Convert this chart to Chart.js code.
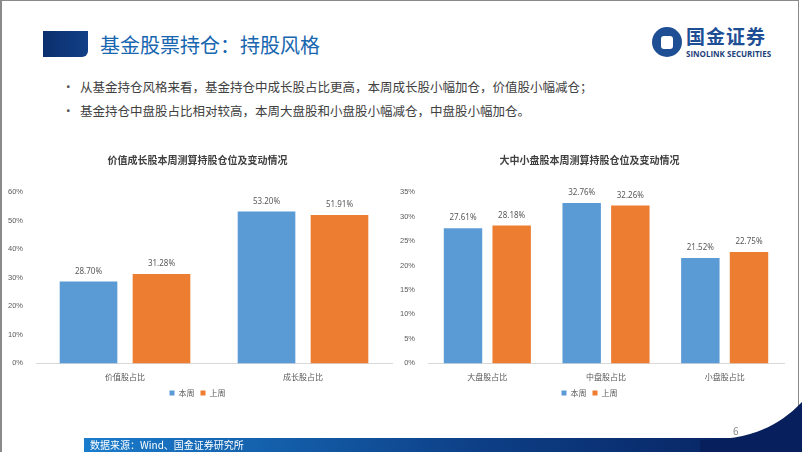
<!DOCTYPE html>
<html>
<head>
<meta charset="utf-8">
<script src="https://cdn.jsdelivr.net/npm/chart.js@4.4.1/dist/chart.umd.min.js"></script>
<style>
  html, body { margin: 0; padding: 0; background: #fff; }
  body { width: 802px; height: 452px; position: relative; overflow: hidden;
         font-family: "Noto Sans CJK SC", "Noto Sans", sans-serif; }
  .frame { position: absolute; left: 0; top: 0; width: 799px; height: 452px;
           border-left: 2px solid #8a8a8a; border-top: 1px solid #8a8a8a; border-right: 1px solid #8a8a8a; box-sizing: border-box; }
  .sq { position: absolute; left: 43px; top: 31px; width: 45px; height: 26px;
        background: linear-gradient(90deg, #0b2f6e, #123f86); border-bottom-right-radius: 6px; }
  .title { position: absolute; left: 100px; top: 31px; font-size: 20px; color: #1766b0; line-height: 28px; }
  .bullets { position: absolute; left: 62px; top: 77px; font-size: 12.5px; color: #404040; }
  .bullets div { height: 24px; line-height: 20px; }
  .bullets span { display: inline-block; width: 18px; color: #555; }
  .logo-c { position: absolute; left: 652px; top: 27px; width: 30px; height: 30px; border-radius: 50%;
            background: #1e4f95; }
  .logo-s { position: absolute; left: 661px; top: 36px; width: 12px; height: 13px; background: #fff; border-radius: 3px; }
  .logo-t { position: absolute; left: 686px; top: 22px; font-size: 19px; font-weight: bold; color: #1e4f95; letter-spacing: 1px; }
  .logo-e { position: absolute; left: 686px; top: 48px; font-size: 8px; font-weight: bold; color: #1e3f7a; font-family: "Open Sans", sans-serif; }
  canvas { position: absolute; }
  .src { position: absolute; left: 90px; top: 438px; font-size: 10px; color: #fff; line-height: 14px; z-index: 3; }
  .pg { position: absolute; left: 733px; top: 423px; font-size: 10px; color: #888; z-index: 3; }
  svg { position: absolute; left: 0; top: 0; }
</style>
</head>
<body>
<div class="frame"></div>
<div class="sq"></div>
<div class="title">基金股票持仓：持股风格</div>
<div class="logo-c"></div><div class="logo-s"></div>
<div class="logo-t">国金证券</div>
<div class="logo-e">SINOLINK SECURITIES</div>
<div class="bullets">
  <div><span>•</span>从基金持仓风格来看，基金持仓中成长股占比更高，本周成长股小幅加仓，价值股小幅减仓；</div>
  <div><span>•</span>基金持仓中盘股占比相对较高，本周大盘股和小盘股小幅减仓，中盘股小幅加仓。</div>
</div>
<canvas id="c1" width="397" height="265" style="left:3px;top:142px"></canvas>
<canvas id="c2" width="397" height="265" style="left:395px;top:142px"></canvas>
<svg width="802" height="452">
  <defs>
    <linearGradient id="g" x1="0" x2="1" y1="0" y2="0">
      <stop offset="0" stop-color="#1a7ccc"/>
      <stop offset="0.55" stop-color="#0d3f86"/>
      <stop offset="1" stop-color="#071f5c"/>
    </linearGradient>
  </defs>
  <rect x="84" y="438" width="718" height="14" fill="url(#g)"/>
  <path d="M700 440 C745 440 775 430 802 402 L802 452 L700 452 Z" fill="#071f5c"/>
</svg>
<div class="src">数据来源：Wind、国金证券研究所</div>
<div class="pg">6</div>
<script>
const series = ['本周', '上周'];
const styleCats = ['价值股占比', '成长股占比'];
const styleThis = [28.70, 53.20];
const styleLast = [31.28, 51.91];
const sizeCats = ['大盘股占比', '中盘股占比', '小盘股占比'];
const sizeThis = [27.61, 32.76, 21.52];
const sizeLast = [28.18, 32.26, 22.75];
const blue = '#5b9bd5', orange = '#ed7d31';

const barLabels = {
  id: 'barLabels',
  afterDatasetsDraw(chart) {
    const ctx = chart.ctx;
    ctx.save();
    ctx.font = '8px "Noto Sans", sans-serif';
    ctx.fillStyle = '#595959';
    ctx.textAlign = 'center';
    ctx.textBaseline = 'bottom';
    chart.data.datasets.forEach((ds, i) => {
      chart.getDatasetMeta(i).data.forEach((bar, j) => {
        ctx.fillText(ds.data[j].toFixed(2) + '%', bar.x, bar.y - 6);
      });
    });
    ctx.restore();
  }
};

function makeChart(id, title, cats, a, b, max, step) {
  return new Chart(document.getElementById(id), {
    type: 'bar',
    data: {
      labels: cats,
      datasets: [
        { label: series[0], data: a, backgroundColor: blue },
        { label: series[1], data: b, backgroundColor: orange }
      ]
    },
    options: {
      responsive: false, animation: false,
      categoryPercentage: 0.82, barPercentage: 0.79,
      layout: { padding: { left: 0, right: 8, top: 0, bottom: 0 } },
      plugins: {
        title: { display: true, text: title, color: '#404040',
                 font: { size: 10, weight: 'bold', family: '"Noto Sans CJK SC"' },
                 padding: { top: 12, bottom: 26 } },
        legend: { position: 'bottom',
                  labels: { boxWidth: 5, boxHeight: 5, padding: 6, color: '#595959',
                            font: { size: 8, family: '"Noto Sans CJK SC"' } } },
        tooltip: { enabled: false }
      },
      scales: {
        x: { grid: { display: false }, border: { color: '#d9d9d9' },
             ticks: { color: '#595959', font: { size: 8, family: '"Noto Sans CJK SC"' }, padding: 1 } },
        y: { min: 0, max: max, grid: { display: false }, border: { display: false },
             ticks: { stepSize: step, color: '#595959', font: { size: 7.5 }, padding: 5,
                      callback: v => v + '%' } }
      }
    },
    plugins: [barLabels]
  });
}

makeChart('c1', '价值成长股本周测算持股仓位及变动情况', styleCats, styleThis, styleLast, 60, 10);
makeChart('c2', '大中小盘股本周测算持股仓位及变动情况', sizeCats, sizeThis, sizeLast, 35, 5);
</script>
</body>
</html>
